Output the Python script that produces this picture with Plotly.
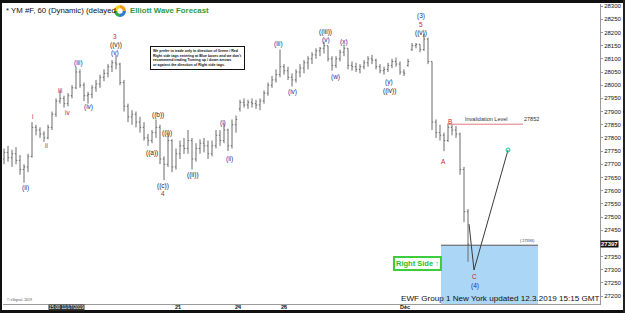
import plotly.graph_objects as go

# ---------------- data (hourly YM bars) ----------------
opens = [27720, 27745, 27725, 27740, 27715, 27680, 27690, 27730, 27840, 27830,
         27815, 27800, 27840, 27890, 27940, 27950, 27930, 27960, 27990, 28050,
         28000, 27960, 27965, 27990, 28005, 28030, 28045, 28070, 28085, 28080,
         28010, 27920, 27880, 27890, 27860, 27840, 27800, 27790, 27820, 27840,
         27720, 27700, 27790, 27690, 27740, 27770, 27760, 27790, 27720, 27760,
         27780, 27770, 27740, 27770, 27810, 27790, 27830, 27770, 27850, 27910,
         27935, 27925, 27935, 27930, 27925, 27940, 27970, 28000, 28020, 28040,
         28070, 28055, 28030, 28020, 28050, 28065, 28085, 28100, 28115, 28130,
         28140, 28150, 28100, 28075, 28100, 28125, 28140, 28075, 28070, 28060,
         28070, 28085, 28100, 28095, 28070, 28055, 28060, 28075, 28090, 28080,
         28050, 28075, 28135, 28150, 28155, 28135, 28175, 28090, 27860, 27820,
         27810, 27790, 27840, 27830, 27815, 27680, 27520]
highs = [27760, 27770, 27755, 27765, 27735, 27700, 27740, 27860, 27850, 27840,
         27825, 27850, 27900, 27950, 27980, 27960, 27970, 28000, 28070, 28060,
         28010, 27975, 28000, 28020, 28040, 28060, 28080, 28095, 28115, 28085,
         28020, 27930, 27905, 27900, 27880, 27860, 27815, 27830, 27870, 27850,
         27730, 27820, 27795, 27760, 27790, 27800, 27830, 27800, 27780, 27795,
         27800, 27790, 27790, 27830, 27830, 27855, 27835, 27870, 27885, 27945,
         27950, 27945, 27950, 27945, 27950, 27980, 28010, 28035, 28060, 28135,
         28080, 28070, 28045, 28060, 28080, 28095, 28110, 28125, 28140, 28145,
         28165, 28150, 28110, 28110, 28135, 28155, 28140, 28090, 28085, 28080,
         28095, 28110, 28115, 28100, 28080, 28070, 28085, 28100, 28105, 28090,
         28060, 28100, 28160, 28160, 28155, 28195, 28180, 28090, 27870, 27850,
         27820, 27855, 27850, 27845, 27820, 27690, 27530]
lows = [27700, 27710, 27690, 27700, 27660, 27630, 27670, 27725, 27810, 27800,
        27785, 27795, 27830, 27880, 27930, 27915, 27920, 27950, 27985, 27990,
        27940, 27930, 27950, 27975, 27990, 28015, 28030, 28050, 28060, 28000,
        27900, 27860, 27850, 27840, 27820, 27790, 27770, 27780, 27800, 27700,
        27640, 27690, 27670, 27680, 27720, 27740, 27740, 27680, 27710, 27740,
        27745, 27720, 27730, 27760, 27770, 27780, 27750, 27760, 27820, 27900,
        27915, 27910, 27915, 27910, 27905, 27930, 27960, 27990, 28010, 28030,
        28040, 28020, 27995, 28010, 28030, 28045, 28060, 28080, 28100, 28110,
        28120, 28090, 28055, 28065, 28090, 28110, 28060, 28055, 28050, 28045,
        28060, 28070, 28080, 28060, 28045, 28040, 28050, 28065, 28070, 28040,
        28035, 28070, 28130, 28140, 28125, 28130, 28080, 27830, 27800, 27790,
        27750, 27785, 27810, 27800, 27660, 27480, 27330]
closes = [27745, 27725, 27740, 27715, 27680, 27690, 27730, 27840, 27830, 27815,
          27800, 27840, 27890, 27940, 27950, 27930, 27960, 27990, 28050, 28000,
          27960, 27965, 27990, 28005, 28030, 28045, 28070, 28085, 28080, 28010,
          27920, 27880, 27890, 27860, 27840, 27800, 27790, 27820, 27840, 27720,
          27700, 27790, 27690, 27740, 27770, 27760, 27790, 27720, 27760, 27780,
          27770, 27740, 27770, 27810, 27790, 27830, 27770, 27850, 27870, 27935,
          27925, 27935, 27930, 27925, 27940, 27970, 28000, 28020, 28040, 28070,
          28055, 28030, 28020, 28050, 28065, 28085, 28100, 28115, 28130, 28140,
          28150, 28100, 28075, 28100, 28125, 28140, 28075, 28070, 28060, 28070,
          28085, 28100, 28095, 28070, 28055, 28060, 28075, 28090, 28080, 28050,
          28045, 28090, 28150, 28155, 28135, 28175, 28090, 27860, 27820, 27810,
          27790, 27840, 27830, 27815, 27680, 27520, 27397]

x_tick_pos = [43.5, 58.5, 70, 100.25]
x_tick_text = ["21", "24", "26", "Dec"]
y_tick_vals = [27200, 27250, 27300, 27350, 27450, 27500, 27550, 27600, 27650,
               27700, 27750, 27800, 27850, 27900, 27950, 28000, 28050, 28100,
               28150, 28200, 28250, 28300]

invalidation_level = 27852
invalidation_span = [111.25, 129.75]
box_top = 27393
box_span = [109.25, 133.5]
last_price = 27397
proj_x = [116.25, 117.5, 126]
proj_y = [27473, 27299, 27754]

# Elliott wave labels: (text, bar index, price, colour group)
wave_labels = [
    ("(ii)", 5.25, 27610, "b"), ("(iii)", 18.5, 28084, "b"), ("(iv)", 21, 27917, "b"),
    ("(v)", 27.75, 28124, "b"), ("(i)", 54.8, 27856, "b"), ("(ii)", 56.25, 27720, "b"),
    ("(iii)", 68.5, 28156, "b"), ("(iv)", 72, 27974, "b"), ("(v)", 80.5, 28173, "b"),
    ("(w)", 82.75, 28031, "b"), ("(x)", 85, 28163, "b"), ("(y)", 96.25, 28012, "b"),
    ("(3)", 104.25, 28264, "b"), ("(4)", 117.75, 27238, "b"),
    ("i", 7, 27883, "r"), ("ii", 10.5, 27773, "r"), ("iii", 14, 27978, "r"),
    ("iv", 15.75, 27898, "r"), ("3", 27.75, 28183, "r"), ("4", 39.75, 27589, "r"),
    ("5", 104.25, 28231, "r"), ("A", 109.75, 27712, "r"), ("B", 111.5, 27864, "r"),
    ("C", 117.5, 27276, "r"),
    ("((v))", 28, 28154, "k"), ("((a))", 37, 27742, "k"), ("((b))", 38.5, 27887, "k"),
    ("((i))", 40.75, 27818, "k"), ("((c))", 39.75, 27617, "k"), ("((ii))", 47.25, 27659, "k"),
    ("((iii))", 80.25, 28203, "k"), ("((iv))", 96.25, 27979, "k"), ("((v))", 104.25, 28197, "k"),
]
logo_parts = [1, 1, 1, 1]

# ---------------- figure ----------------
W, H = 625, 313
ML, MR, MT, MB = 3, 25, 4, 9
PW, PH = W - ML - MR, H - MT - MB


def px(xp):
    return (xp - ML) / PW


def py(yp):
    return 1 + (MT - yp) / PH


colors = {"b": "#1f2f9e", "r": "#c81e1e", "k": "#1a1a1a"}
FONT = "Liberation Sans"

fig = go.Figure()
fig.add_trace(go.Ohlc(
    x=list(range(len(closes))), open=opens, high=highs, low=lows, close=closes,
    increasing=dict(line=dict(color="#6a6a6a", width=1)),
    decreasing=dict(line=dict(color="#6a6a6a", width=1)),
    tickwidth=0.3, hoverinfo="skip", showlegend=False))

fig.add_trace(go.Scatter(x=proj_x, y=proj_y, mode="lines",
                         line=dict(color="#3a3a3a", width=1),
                         hoverinfo="skip", showlegend=False))
fig.add_trace(go.Scatter(x=proj_x[-1:], y=proj_y[-1:], mode="markers",
                         marker=dict(symbol="circle-open", size=4,
                                     line=dict(color="#3a3a3a", width=1)),
                         hoverinfo="skip", showlegend=False))

fig.add_trace(go.Pie(values=logo_parts, sort=False, direction="clockwise",
                     marker=dict(colors=["#f39c1e", "#2b7bd0", "#35a847", "#f2d21b"]),
                     hole=0.45, textinfo="none", hoverinfo="skip", showlegend=False,
                     domain=dict(x=[px(114), px(126)], y=[py(17), py(5)])))

shapes = [
    dict(type="rect", xref="x", yref="y", x0=box_span[0], x1=box_span[1],
         y0=27170, y1=box_top, fillcolor="#acd6f6", line=dict(width=0), layer="below"),
    dict(type="line", xref="x", yref="y", x0=box_span[0], x1=box_span[1],
         y0=box_top, y1=box_top, line=dict(color="#555555", width=1)),
    dict(type="line", xref="x", yref="y", x0=invalidation_span[0], x1=invalidation_span[1],
         y0=invalidation_level, y1=invalidation_level, line=dict(color="#e07a7a", width=1)),
    # frame
    dict(type="rect", xref="paper", yref="paper", x0=px(0), x1=px(625), y0=py(3), y1=py(0),
         fillcolor="#111111", line=dict(width=0)),
    dict(type="rect", xref="paper", yref="paper", x0=px(0), x1=px(625), y0=py(313), y1=py(310),
         fillcolor="#111111", line=dict(width=0)),
    dict(type="rect", xref="paper", yref="paper", x0=px(0), x1=px(2), y0=py(313), y1=py(0),
         fillcolor="#111111", line=dict(width=0)),
    dict(type="rect", xref="paper", yref="paper", x0=px(623), x1=px(625), y0=py(313), y1=py(0),
         fillcolor="#222222", line=dict(width=0)),
]

ann = []
for text, xi, yv, c in wave_labels:
    ann.append(dict(x=xi, y=yv, xref="x", yref="y", text=text, showarrow=False,
                    font=dict(family=FONT, size=6.5, color=colors[c])))

for tv, tt in zip(x_tick_pos, x_tick_text):
    ann.append(dict(x=tv, y=py(307.2), xref="x", yref="paper", yanchor="middle",
                    text="<b>" + tt + "</b>", showarrow=False,
                    font=dict(family=FONT, size=5.5, color="#111111")))

ann += [
    dict(x=px(4), y=py(10), xref="paper", yref="paper", xanchor="left", yanchor="middle",
         text="* YM #F, 60 (Dynamic) (delayed", showarrow=False,
         font=dict(family=FONT, size=7.8, color="#111111")),
    dict(x=px(128), y=py(11), xref="paper", yref="paper", xanchor="left", yanchor="middle",
         text="<b>Elliott Wave Forecast</b>", showarrow=False,
         font=dict(family=FONT, size=7.8, color="#2f9a45")),
    dict(x=px(197), y=py(58.5), xref="paper", yref="paper", xanchor="center", yanchor="middle",
         text="<b>We prefer to trade only in direction of Green / Red<br>"
              "Right side tags entering at Blue boxes and we don't<br>"
              "recommend trading Turning up / down arrows<br>"
              "or against the direction of Right side tags.</b>",
         align="left", showarrow=False, bgcolor="white", bordercolor="#111111",
         borderwidth=1, borderpad=2, font=dict(family=FONT, size=3.6, color="#111111")),
    dict(x=120.5, y=invalidation_level, xref="x", yref="y", yanchor="bottom",
         text="Invalidation Level", showarrow=False,
         font=dict(family=FONT, size=5.5, color="#333333")),
    dict(x=131.8, y=invalidation_level, xref="x", yref="y", yanchor="bottom",
         text=str(invalidation_level), showarrow=False,
         font=dict(family=FONT, size=5.5, color="#333333")),
    dict(x=133.3, y=box_top, xref="x", yref="y", xanchor="right", yanchor="bottom",
         text="( " + str(box_top) + ")", showarrow=False,
         font=dict(family=FONT, size=3.8, color="#333333")),
    dict(x=px(417.5), y=py(263), xref="paper", yref="paper", xanchor="center", yanchor="middle",
         text="<b>Right Side \u2191</b>", showarrow=False, bgcolor="white",
         bordercolor="#3ccc3c", borderwidth=2, borderpad=1,
         font=dict(family=FONT, size=7.5, color="#2dbb2d")),
    dict(x=px(499.5), y=py(298), xref="paper", yref="paper", xanchor="center", yanchor="middle",
         text="EWF Group 1 New York updated 12.3.2019 15:15 GMT", showarrow=False,
         font=dict(family=FONT, size=8.1, color="#111111")),
    dict(x=1.0, y=last_price, xref="paper", yref="y", xanchor="left", yanchor="middle",
         text="<b>" + str(last_price) + "</b>", showarrow=False, bgcolor="#111111",
         borderpad=0, font=dict(family=FONT, size=6, color="white")),
    dict(x=px(66), y=py(307), xref="paper", yref="paper", xanchor="center", yanchor="middle",
         text="15:00 11/17/2019", showarrow=False, bgcolor="#333333", borderpad=0,
         font=dict(family=FONT, size=4.5, color="white")),
    dict(x=px(5), y=py(300), xref="paper", yref="paper", xanchor="left", yanchor="middle",
         text="\u00a9 eSignal, 2019", showarrow=False,
         font=dict(family=FONT, size=3.5, color="#555555")),
]

fig.update_layout(
    width=W, height=H, margin=dict(l=ML, r=MR, t=MT, b=MB),
    paper_bgcolor="white", plot_bgcolor="white",
    shapes=shapes, annotations=ann, showlegend=False,
    xaxis=dict(range=[-0.25, 149], showgrid=False, zeroline=False, showline=True,
               linecolor="#9a9a9a", linewidth=1, tickvals=x_tick_pos,
               showticklabels=False, ticks="outside", ticklen=2, tickcolor="#9a9a9a",
               rangeslider=dict(visible=False), fixedrange=True),
    yaxis=dict(range=[27170, 28308], side="right", tickvals=y_tick_vals, tickformat="d",
               showgrid=False, zeroline=False, showline=True, linecolor="#9a9a9a",
               linewidth=1, ticks="outside", ticklen=2, tickcolor="#9a9a9a",
               tickfont=dict(family=FONT, size=6, color="#111111"), fixedrange=True),
)

fig.write_html("out.html")
